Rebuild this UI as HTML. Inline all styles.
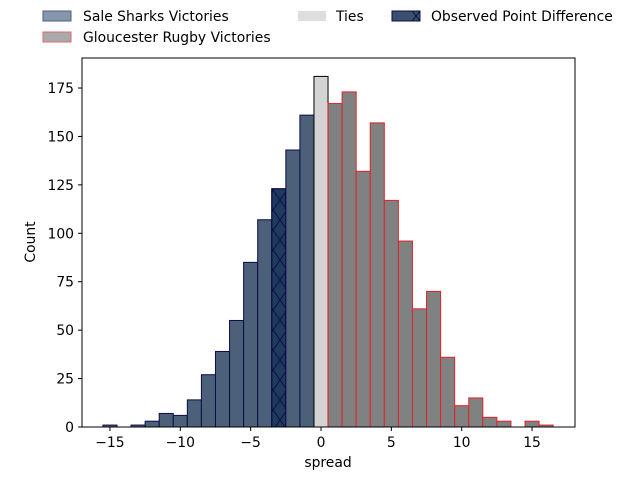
<!DOCTYPE html>
<html><head><meta charset="utf-8"><style>
body{margin:0;background:#fff;font-family:"Liberation Sans","DejaVu Sans",sans-serif}
svg text{font-family:"DejaVu Sans","Liberation Sans",sans-serif;font-size:13.9px;fill:#000}
</style></head><body>
<svg id="chart" width="640" height="480" viewBox="0 0 640 480" xmlns="http://www.w3.org/2000/svg">
<defs>
<pattern id="hatchX" patternUnits="userSpaceOnUse" width="14" height="20">
<path d="M0,0 L14,20 M14,0 L0,20" stroke="#0c0c4a" stroke-width="1"/>
</pattern>
</defs>
<g id="bars"></g>
<rect x="82" y="58" width="493" height="369" fill="none" stroke="#000" stroke-width="1"/>
<g id="xaxis"></g>
<g id="yaxis"></g>
<text x="328" y="467" text-anchor="middle">spread</text>
<text transform="translate(35,242) rotate(-90)" text-anchor="middle">Count</text>
<g>
<g><rect x="43" y="11" width="28" height="10" fill="#8797ab" stroke="#4c5f7a"/><text x="83" y="21">Sale Sharks Victories</text></g>
<g><rect x="43" y="32" width="28" height="10" fill="#a9abab" stroke="#e06a70"/><text x="83" y="42">Gloucester Rugby Victories</text></g>
<g><rect x="298" y="11" width="28" height="10" fill="#dedede"/><text x="336" y="21">Ties</text></g>
<g><rect x="392" y="11" width="28" height="10" fill="#3b4f6e" stroke="#0c0c4a"/><path d="M412,11 L420,21 M420,11 L412,21" stroke="#0c0c4a"/><text x="431" y="21">Observed Point Difference</text></g>
</g>
</svg>
<script>
const bins = [-15,-14,-13,-12,-11,-10,-9,-8,-7,-6,-5,-4,-3,-2,-1,0,1,2,3,4,5,6,7,8,9,10,11,12,13,14,15,16];
const counts = [1,0,1,3,7,6,14,27,39,55,85,107,123,143,161,181,167,173,132,157,117,96,61,70,36,11,15,5,3,0,3,1];
const observed = -3;
const xTicks = [-15,-10,-5,0,5,10,15];
const yTicks = [0,25,50,75,100,125,150,175];
const NS='http://www.w3.org/2000/svg';
const x = v => 321 + v*14.07;
const y = v => 427 - v*1.937;
function mk(t,a){const e=document.createElementNS(NS,t);for(const k in a)e.setAttribute(k,a[k]);return e;}
const bars=document.getElementById('bars');
bins.forEach((b,i)=>{
  const c=counts[i]; if(c<=0) return;
  let fill,stroke;
  if(b<0){fill=b===observed?'#1f3a5c':'#4c6079';stroke='#0c0c4a';}
  else if(b===0){fill='#d3d3d3';stroke='#000';}
  else {fill='#808282';stroke='#e3202a';}
  const r=mk('rect',{x:x(b-0.5),y:y(c),width:x(b+0.5)-x(b-0.5),height:y(0)-y(c),fill:fill,stroke:stroke,'stroke-width':1});
  
  
  bars.appendChild(r);
  if(b===observed){
    const h=mk('rect',{x:x(b-0.5),y:y(c),width:x(b+0.5)-x(b-0.5),height:y(0)-y(c),fill:'url(#hatchX)',stroke:stroke});
    
    
    bars.appendChild(h);
  }
});
const xa=document.getElementById('xaxis');
xTicks.forEach(t=>{
  const l=mk('line',{x1:x(t),x2:x(t),y1:427,y2:431,stroke:'#000'});
  
  
  xa.appendChild(l);
  const tx=mk('text',{x:x(t),y:447,'text-anchor':'middle'});tx.textContent=t<0?'\u2212'+(-t):t;
  
  
  xa.appendChild(tx);
});
const ya=document.getElementById('yaxis');
yTicks.forEach(t=>{
  const l=mk('line',{x1:78,x2:82,y1:y(t),y2:y(t),stroke:'#000'});
  
  
  ya.appendChild(l);
  const tx=mk('text',{x:74,y:y(t)+5,'text-anchor':'end'});tx.textContent=t;
  
  
  ya.appendChild(tx);
});
</script>
</body></html>
